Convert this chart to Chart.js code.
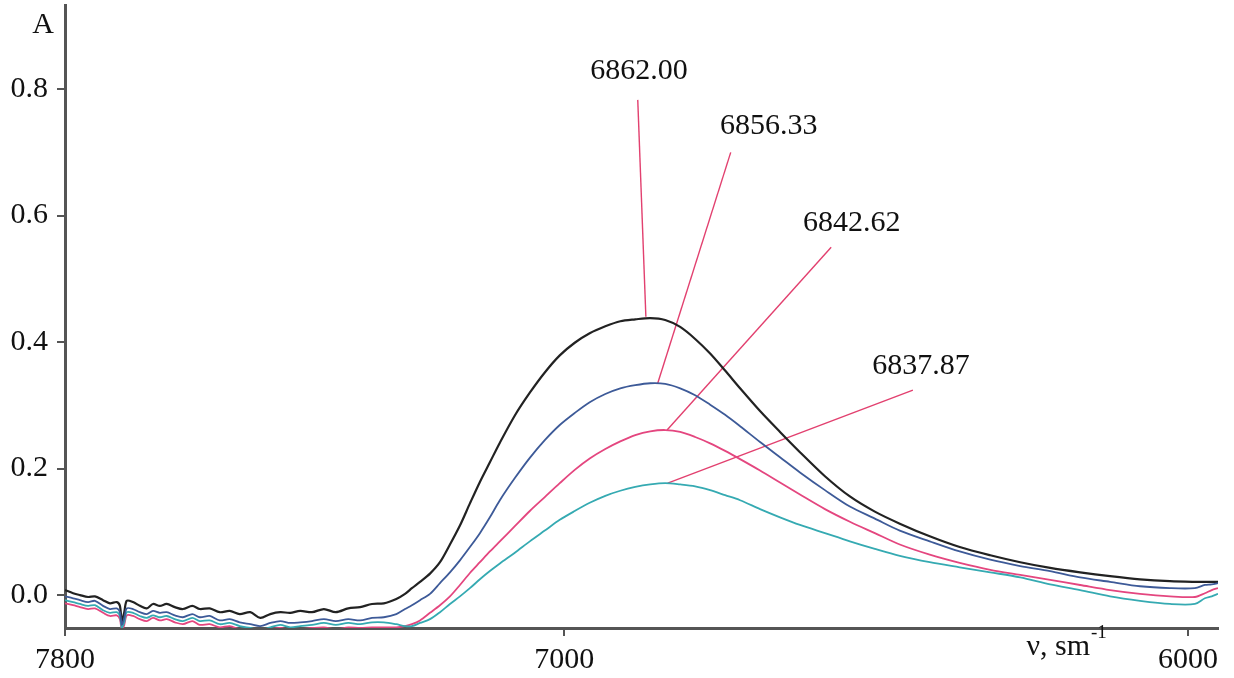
<!DOCTYPE html>
<html>
<head>
<meta charset="utf-8">
<title>Spectra</title>
<script src="https://cdn.jsdelivr.net/npm/chart.js@4"></script>
<style>
    body { margin: 0; background: #fff; }
    .chart-container { width: 1234px; height: 678px; position: relative; }
</style>
</head>
<body>
<div class="chart-container">
    <canvas id="spectra"></canvas>
</div>
<script>
// wavenumbers, cm-1
const wavenumbers = [7800, 7787, 7776, 7763, 7752, 7739, 7728, 7717, 7712, 7709,
    7705, 7701, 7691, 7680, 7669, 7659, 7648, 7637, 7624, 7611,
    7596, 7584, 7568, 7552, 7536, 7520, 7503, 7487, 7471, 7455,
    7439, 7423, 7404, 7385, 7366, 7346, 7327, 7308, 7289, 7269,
    7255, 7244, 7231, 7215, 7199, 7183, 7167, 7151, 7135, 7119,
    7103, 7079, 7055, 7031, 7007, 6983, 6959, 6934, 6910, 6886,
    6862, 6838, 6814, 6790, 6766, 6742, 6718, 6686, 6654, 6622,
    6582, 6542, 6502, 6462, 6414, 6366, 6317, 6269, 6221, 6173,
    6125, 6077, 6029, 5989, 5973, 5962, 5952];

const blackA = [0.008, 0.003, 0.000, -0.003, -0.002, -0.008, -0.013, -0.011, -0.017, -0.041,
    -0.027, -0.009, -0.011, -0.017, -0.021, -0.014, -0.017, -0.014, -0.019, -0.022,
    -0.017, -0.022, -0.021, -0.027, -0.025, -0.030, -0.027, -0.036, -0.030, -0.027,
    -0.028, -0.025, -0.027, -0.022, -0.027, -0.021, -0.019, -0.014, -0.013, -0.006,
    0.002, 0.011, 0.021, 0.034, 0.052, 0.080, 0.110, 0.145, 0.179, 0.210,
    0.241, 0.284, 0.320, 0.352, 0.379, 0.399, 0.414, 0.425, 0.433, 0.436,
    0.438, 0.435, 0.424, 0.405, 0.382, 0.355, 0.327, 0.291, 0.258, 0.226,
    0.188, 0.156, 0.132, 0.113, 0.093, 0.076, 0.063, 0.052, 0.043, 0.036,
    0.030, 0.025, 0.022, 0.021, 0.021, 0.021, 0.021];

const blueA = [-0.002, -0.005, -0.008, -0.011, -0.009, -0.017, -0.022, -0.021, -0.027, -0.047,
    -0.036, -0.021, -0.022, -0.027, -0.030, -0.025, -0.028, -0.027, -0.032, -0.035,
    -0.030, -0.035, -0.033, -0.040, -0.038, -0.043, -0.046, -0.049, -0.044, -0.041,
    -0.044, -0.043, -0.041, -0.038, -0.041, -0.038, -0.040, -0.036, -0.035, -0.030,
    -0.022, -0.016, -0.008, 0.002, 0.019, 0.036, 0.055, 0.076, 0.098, 0.123,
    0.150, 0.185, 0.217, 0.245, 0.269, 0.288, 0.305, 0.318, 0.327, 0.332,
    0.335, 0.334, 0.327, 0.316, 0.301, 0.285, 0.267, 0.242, 0.218, 0.194,
    0.166, 0.140, 0.121, 0.102, 0.085, 0.069, 0.056, 0.046, 0.038, 0.028,
    0.021, 0.014, 0.011, 0.011, 0.016, 0.017, 0.019];

const pinkA = [-0.013, -0.016, -0.019, -0.022, -0.021, -0.028, -0.033, -0.032, -0.038, -0.055,
    -0.047, -0.032, -0.033, -0.038, -0.041, -0.036, -0.040, -0.038, -0.043, -0.046,
    -0.041, -0.047, -0.046, -0.051, -0.049, -0.054, -0.055, -0.057, -0.054, -0.052,
    -0.055, -0.054, -0.052, -0.051, -0.054, -0.051, -0.052, -0.051, -0.051, -0.051,
    -0.049, -0.046, -0.040, -0.028, -0.016, -0.002, 0.016, 0.035, 0.052, 0.069,
    0.085, 0.109, 0.133, 0.155, 0.177, 0.198, 0.216, 0.231, 0.243, 0.253,
    0.259, 0.261, 0.258, 0.250, 0.240, 0.228, 0.215, 0.197, 0.178, 0.159,
    0.136, 0.116, 0.098, 0.080, 0.064, 0.051, 0.040, 0.032, 0.024, 0.016,
    0.008, 0.002, -0.002, -0.003, 0.003, 0.008, 0.011];

const tealA = [-0.008, -0.011, -0.014, -0.017, -0.016, -0.024, -0.028, -0.027, -0.033, -0.052,
    -0.043, -0.027, -0.028, -0.033, -0.036, -0.032, -0.035, -0.033, -0.038, -0.041,
    -0.036, -0.041, -0.040, -0.046, -0.044, -0.049, -0.052, -0.055, -0.051, -0.047,
    -0.051, -0.049, -0.047, -0.044, -0.047, -0.044, -0.046, -0.043, -0.043, -0.046,
    -0.049, -0.049, -0.044, -0.038, -0.027, -0.014, -0.002, 0.011, 0.025, 0.038,
    0.050, 0.067, 0.085, 0.102, 0.119, 0.133, 0.146, 0.157, 0.165, 0.171,
    0.175, 0.177, 0.175, 0.172, 0.166, 0.158, 0.150, 0.136, 0.123, 0.111,
    0.098, 0.085, 0.073, 0.062, 0.052, 0.044, 0.036, 0.028, 0.017, 0.008,
    -0.002, -0.009, -0.014, -0.014, -0.005, -0.002, 0.002];

// peak marks: label text, peak point, end of leader line, label centre
const peakLabels = ['6862.00', '6856.33', '6842.62', '6837.87'];
const peakX = [6869, 6850, 6835, 6834];
const peakY = [0.440, 0.335, 0.261, 0.177];
const leaderX = [6882, 6733, 6572, 6441];
const leaderY = [0.783, 0.700, 0.550, 0.324];
const labelX = [6880, 6672, 6539, 6428];
const labelY = [0.828, 0.742, 0.588, 0.362];

const xTicks = [7800, 7000, 6000];
const yTicks = [0.0, 0.2, 0.4, 0.6, 0.8];

const FONT = '"Liberation Serif", "Times New Roman", serif';

function toPoints(ys) {
    return wavenumbers.map((w, i) => ({ x: w, y: ys[i] }));
}

const series = [
    { data: blueA, color: '#3d5a98', width: 1.8 },
    { data: tealA, color: '#35aab2', width: 1.8 },
    { data: pinkA, color: '#e4467f', width: 1.8 },
    { data: blackA, color: '#222222', width: 2.2 }
];

const datasets = series.map(s => ({
    data: toPoints(s.data),
    borderColor: s.color,
    borderWidth: s.width,
    pointRadius: 0,
    tension: 0.3,
    fill: false
}));

peakLabels.forEach((t, i) => {
    datasets.push({
        data: [{ x: peakX[i], y: peakY[i] }, { x: leaderX[i], y: leaderY[i] }],
        borderColor: '#e2406f',
        borderWidth: 1.4,
        pointRadius: 0,
        tension: 0
    });
});

const textPlugin = {
    id: 'spectraText',
    afterDraw(chart) {
        const ctx = chart.ctx;
        const xs = chart.scales.x;
        const ys = chart.scales.y;
        const area = chart.chartArea;
        ctx.save();
        ctx.fillStyle = '#111';
        ctx.font = '30px ' + FONT;
        ctx.textAlign = 'center';
        ctx.textBaseline = 'middle';
        peakLabels.forEach((t, i) => {
            ctx.fillText(t, xs.getPixelForValue(labelX[i]), ys.getPixelForValue(labelY[i]));
        });
        // axis names
        ctx.fillText('A', area.left - 22, area.top + 20);
        ctx.textAlign = 'right';
        ctx.textBaseline = 'alphabetic';
        ctx.fillText('\u03bd, sm', area.right - 128, area.bottom + 27);
        ctx.font = '19px ' + FONT;
        ctx.textAlign = 'left';
        ctx.fillText('-1', area.right - 127, area.bottom + 10);
        ctx.restore();
    }
};

const config = {
    type: 'line',
    data: { datasets: datasets },
    options: {
        responsive: true,
        maintainAspectRatio: false,
        animation: false,
        layout: {
            padding: { top: 5, right: 16, left: 0, bottom: 0 }
        },
        plugins: {
            legend: { display: false },
            tooltip: { enabled: false }
        },
        scales: {
            x: {
                type: 'linear',
                reverse: true,
                min: 5952,
                max: 7800,
                afterBuildTicks: (scale) => { scale.ticks = xTicks.map(v => ({ value: v })); },
                afterFit: (scale) => {
                    scale.height = 50;
                    scale.paddingLeft = 0;
                    scale.paddingRight = 0;
                },
                grid: { drawOnChartArea: false, drawTicks: true, tickLength: 8, color: '#555', lineWidth: 2 },
                border: { color: '#555', width: 3 },
                ticks: {
                    autoSkip: false,
                    maxRotation: 0,
                    padding: 6,
                    color: '#111',
                    font: { family: FONT, size: 30 },
                    callback: (v) => String(v)
                }
            },
            y: {
                min: -0.052,
                max: 0.933,
                afterBuildTicks: (scale) => { scale.ticks = yTicks.map(v => ({ value: v })); },
                afterFit: (scale) => {
                    scale.width = 65;
                    scale.paddingTop = 0;
                    scale.paddingBottom = 0;
                },
                grid: { drawOnChartArea: false, drawTicks: true, tickLength: 8, color: '#555', lineWidth: 2 },
                border: { color: '#555', width: 3 },
                ticks: {
                    padding: 9,
                    color: '#111',
                    font: { family: FONT, size: 30 },
                    callback: (v) => v.toFixed(1)
                }
            }
        }
    },
    plugins: [textPlugin]
};

const spectraChart = new Chart(document.getElementById('spectra'), config);
</script>
</body>
</html>
